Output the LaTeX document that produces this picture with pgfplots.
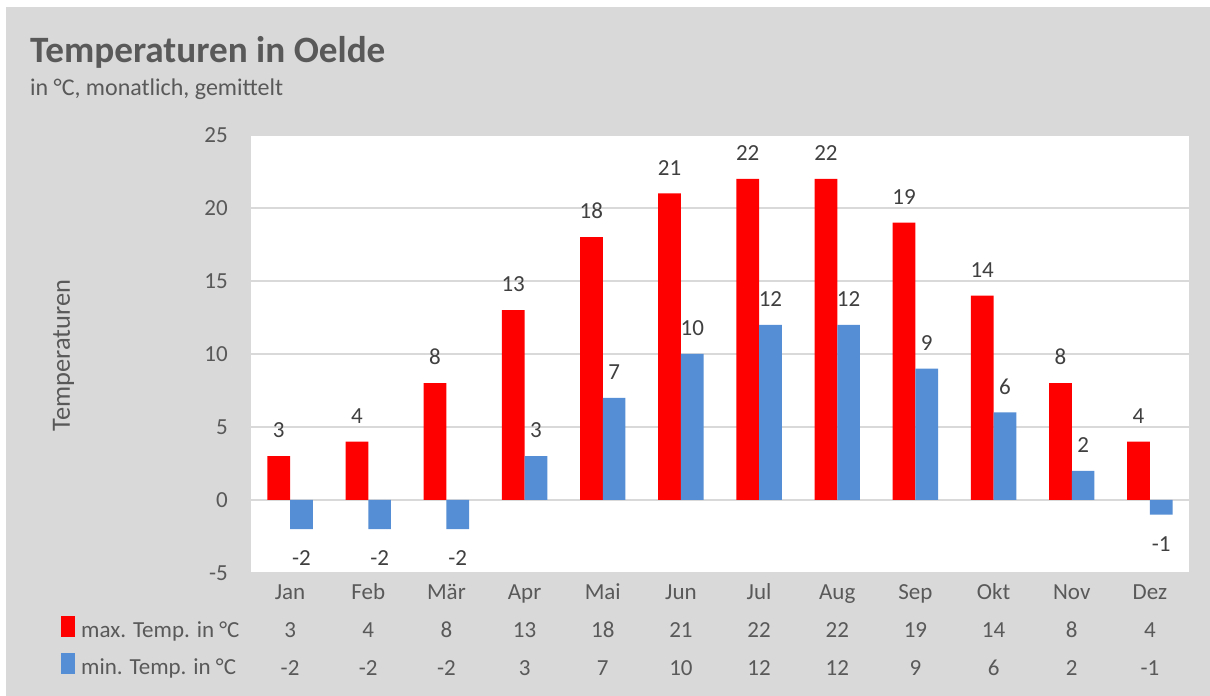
\documentclass[border=0pt]{standalone}
\usepackage{pgfplots}
\pgfplotsset{compat=1.18}
\usepackage{fontspec}
\setmainfont{Carlito}
\definecolor{bg}{HTML}{D9D9D9}
\definecolor{txt}{HTML}{595959}
\definecolor{lbl}{HTML}{404040}
\definecolor{maxc}{HTML}{FF0000}
\definecolor{minc}{HTML}{558ED5}
\newcommand\rs{\rule[-6pt]{0pt}{23pt}}
\newcommand\X[3]{\rs#1\\\rs#2\\\rs#3}
\begin{document}
\begin{tikzpicture}[x=1pt,y=1pt]
\fill[white] (0,0) rectangle (1210,696);
\fill[bg] (6,0) rectangle (1210,689);
\node[anchor=base west, inner sep=0pt, text=txt, font=\fontsize{37.2}{40}\selectfont\bfseries] at (30,633) {Temperaturen in Oelde};
\node[anchor=base west, inner sep=0pt, text=txt, font=\fontsize{24}{28}\selectfont] at (30,600) {in °C, monatlich, gemittelt};
\begin{axis}[
  at={(251pt,123pt)}, anchor=south west,
  width=938pt, height=438pt, scale only axis,
  axis background/.style={fill=white},
  /pgf/number format/assume math mode=true,
  ybar=0pt, bar width=22.7pt,
  ymin=-5, ymax=25, ytick={-5,0,5,10,15,20,25},
  yticklabels={-5,0,5,10,15,20,25},
  xmin=-0.5, xmax=11.5, xtick={0,...,11},
  xticklabels={\X{Jan}{3}{-2}, \X{Feb}{4}{-2}, \X{Mär}{8}{-2}, \X{Apr}{13}{3}, \X{Mai}{18}{7}, \X{Jun}{21}{10}, \X{Jul}{22}{12}, \X{Aug}{22}{12}, \X{Sep}{19}{9}, \X{Okt}{14}{6}, \X{Nov}{8}{2}, \X{Dez}{4}{-1}},
  axis line style={draw=none},
  major tick length=0pt,
  ymajorgrids, major grid style={bg, line width=1.5pt},
  yticklabel style={anchor=east, inner sep=0pt, xshift=-23pt, text=txt, font=\fontsize{23}{26}\selectfont},
  xticklabel style={anchor=north, align=center, inner sep=0pt, yshift=-9pt, text=txt, font=\fontsize{23}{38}\selectfont},
  every axis y label/.style={at={(rel axis cs:-0.193,0.4966)}, anchor=base, rotate=90, text=txt, font=\fontsize{26.4}{30}\selectfont},
  ylabel={Temperaturen},
  nodes near coords,
  nodes near coords align={vertical},
  every node near coord/.append style={text=lbl, font=\fontsize{23}{26}\selectfont, inner xsep=0pt, inner ysep=18pt, text height=18.5pt, text depth=0pt},
  legend style={at={(-0.20256,-0.09817)}, anchor=north west, draw=none, fill=none, inner sep=0pt, column sep=6pt, row sep=10pt, text=txt, font=\fontsize{23}{26}\selectfont, nodes={inner sep=0pt, text height=16pt, text depth=5pt}},
  legend cell align=left,
]
\addplot[fill=maxc, draw=none, legend image code/.code={\path (0pt,-5pt) rectangle (14pt,16pt); \fill[maxc] (0pt,0pt) rectangle (14pt,14pt);}] coordinates {(0,3) (1,4) (2,8) (3,13) (4,18) (5,21) (6,22) (7,22) (8,19) (9,14) (10,8) (11,4)};
\addlegendentry{max. Temp. in °C}
\addplot[fill=minc, draw=none, legend image code/.code={\path (0pt,-5pt) rectangle (14pt,16pt); \fill[minc] (0pt,0pt) rectangle (14pt,14pt);}] coordinates {(0,-2) (1,-2) (2,-2) (3,3) (4,7) (5,10) (6,12) (7,12) (8,9) (9,6) (10,2) (11,-1)};
\addlegendentry{min. Temp. in °C}
\end{axis}
\end{tikzpicture}
\end{document}
